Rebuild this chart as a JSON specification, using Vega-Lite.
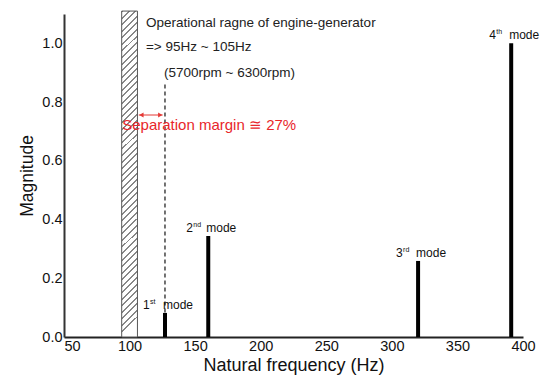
{
  "$schema": "https://vega.github.io/schema/vega-lite/v6.json",
  "width": 459,
  "height": 323,
  "autosize": "none",
  "padding": {"left": 64, "top": 14, "right": 29, "bottom": 52},
  "background": "white",
  "config": {"font": "Liberation Sans", "view": {"stroke": null}},
  "datasets": {
    "modes": [
      {"f": 127, "m": 0.082, "num": "1", "sup": "st"},
      {"f": 160, "m": 0.344, "num": "2", "sup": "nd"},
      {"f": 320, "m": 0.259, "num": "3", "sup": "rd"},
      {"f": 391, "m": 1.0, "num": "4", "sup": "th"}
    ],
    "band": [{"f": 94, "f2": 106, "m": 0, "m2": 1.11}],
    "dash": [{"f": 127, "m": 0.86}],
    "arrow": [{"f": 107, "f2": 125.2, "m": 0.756}],
    "heads": [{"f": 109, "m": 0.756, "dir": "left"}, {"f": 123.4, "m": 0.756, "dir": "right"}],
    "notes": [
      {"f": 112.5, "m": 1.071, "label": "Operational ragne of engine-generator"},
      {"f": 112.5, "m": 0.986, "label": "=> 95Hz ~ 105Hz"},
      {"f": 126.3, "m": 0.899, "label": "(5700rpm ~ 6300rpm)"}
    ],
    "margin": [{"f": 94.4, "m": 0.722, "label": "Separation margin ≅ 27%"}]
  },
  "encoding": {
    "x": {
      "field": "f", "type": "quantitative",
      "scale": {"domain": [50, 400], "nice": false, "zero": false},
      "axis": {
        "values": [50, 100, 150, 200, 250, 300, 350, 400],
        "title": "Natural frequency (Hz)",
        "grid": false, "ticks": false, "tickSize": 0,
        "labelPadding": 2, "labelFontSize": 14.5, "labelColor": "#111",
        "labelAlign": {"condition": {"test": "datum.value === 50", "value": "left"}, "value": "center"},
        "labelFlush": false,
        "domainColor": "#222", "domainWidth": 2,
        "titleFontSize": 18, "titleFontWeight": "normal", "titleColor": "#111", "titlePadding": 4
      }
    },
    "y": {
      "field": "m", "type": "quantitative",
      "scale": {"domain": [0, 1.1], "nice": false},
      "axis": {
        "values": [0, 0.2, 0.4, 0.6, 0.8, 1.0], "format": ".1f",
        "title": "Magnitude",
        "grid": false, "ticks": false, "tickSize": 0,
        "labelPadding": 2, "labelFontSize": 14.5, "labelColor": "#111",
        "domainColor": "#333", "domainWidth": 2,
        "titleFontSize": 17.5, "titleFontWeight": "normal", "titleColor": "#111", "titlePadding": 5
      }
    }
  },
  "layer": [
    {
      "data": {"name": "band"},
      "mark": {
        "type": "rect", "stroke": "#555", "strokeWidth": 1,
        "fill": {
          "gradient": "linear", "x1": 0, "y1": 0, "x2": 0.048, "y2": 1,
          "stops": [
            {"offset": 0, "color": "#888"}, {"offset": 0.006, "color": "#888"}, {"offset": 0.006, "color": "#fff"}, {"offset": 0.02, "color": "#fff"},
            {"offset": 0.02, "color": "#888"}, {"offset": 0.026, "color": "#888"}, {"offset": 0.026, "color": "#fff"}, {"offset": 0.04, "color": "#fff"},
            {"offset": 0.04, "color": "#888"}, {"offset": 0.046, "color": "#888"}, {"offset": 0.046, "color": "#fff"}, {"offset": 0.06, "color": "#fff"},
            {"offset": 0.06, "color": "#888"}, {"offset": 0.066, "color": "#888"}, {"offset": 0.066, "color": "#fff"}, {"offset": 0.08, "color": "#fff"},
            {"offset": 0.08, "color": "#888"}, {"offset": 0.086, "color": "#888"}, {"offset": 0.086, "color": "#fff"}, {"offset": 0.1, "color": "#fff"},
            {"offset": 0.1, "color": "#888"}, {"offset": 0.106, "color": "#888"}, {"offset": 0.106, "color": "#fff"}, {"offset": 0.12, "color": "#fff"},
            {"offset": 0.12, "color": "#888"}, {"offset": 0.126, "color": "#888"}, {"offset": 0.126, "color": "#fff"}, {"offset": 0.14, "color": "#fff"},
            {"offset": 0.14, "color": "#888"}, {"offset": 0.146, "color": "#888"}, {"offset": 0.146, "color": "#fff"}, {"offset": 0.16, "color": "#fff"},
            {"offset": 0.16, "color": "#888"}, {"offset": 0.166, "color": "#888"}, {"offset": 0.166, "color": "#fff"}, {"offset": 0.18, "color": "#fff"},
            {"offset": 0.18, "color": "#888"}, {"offset": 0.186, "color": "#888"}, {"offset": 0.186, "color": "#fff"}, {"offset": 0.2, "color": "#fff"},
            {"offset": 0.2, "color": "#888"}, {"offset": 0.206, "color": "#888"}, {"offset": 0.206, "color": "#fff"}, {"offset": 0.22, "color": "#fff"},
            {"offset": 0.22, "color": "#888"}, {"offset": 0.226, "color": "#888"}, {"offset": 0.226, "color": "#fff"}, {"offset": 0.24, "color": "#fff"},
            {"offset": 0.24, "color": "#888"}, {"offset": 0.246, "color": "#888"}, {"offset": 0.246, "color": "#fff"}, {"offset": 0.26, "color": "#fff"},
            {"offset": 0.26, "color": "#888"}, {"offset": 0.266, "color": "#888"}, {"offset": 0.266, "color": "#fff"}, {"offset": 0.28, "color": "#fff"},
            {"offset": 0.28, "color": "#888"}, {"offset": 0.286, "color": "#888"}, {"offset": 0.286, "color": "#fff"}, {"offset": 0.3, "color": "#fff"},
            {"offset": 0.3, "color": "#888"}, {"offset": 0.306, "color": "#888"}, {"offset": 0.306, "color": "#fff"}, {"offset": 0.32, "color": "#fff"},
            {"offset": 0.32, "color": "#888"}, {"offset": 0.326, "color": "#888"}, {"offset": 0.326, "color": "#fff"}, {"offset": 0.34, "color": "#fff"},
            {"offset": 0.34, "color": "#888"}, {"offset": 0.346, "color": "#888"}, {"offset": 0.346, "color": "#fff"}, {"offset": 0.36, "color": "#fff"},
            {"offset": 0.36, "color": "#888"}, {"offset": 0.366, "color": "#888"}, {"offset": 0.366, "color": "#fff"}, {"offset": 0.38, "color": "#fff"},
            {"offset": 0.38, "color": "#888"}, {"offset": 0.386, "color": "#888"}, {"offset": 0.386, "color": "#fff"}, {"offset": 0.4, "color": "#fff"},
            {"offset": 0.4, "color": "#888"}, {"offset": 0.406, "color": "#888"}, {"offset": 0.406, "color": "#fff"}, {"offset": 0.42, "color": "#fff"},
            {"offset": 0.42, "color": "#888"}, {"offset": 0.426, "color": "#888"}, {"offset": 0.426, "color": "#fff"}, {"offset": 0.44, "color": "#fff"},
            {"offset": 0.44, "color": "#888"}, {"offset": 0.446, "color": "#888"}, {"offset": 0.446, "color": "#fff"}, {"offset": 0.46, "color": "#fff"},
            {"offset": 0.46, "color": "#888"}, {"offset": 0.466, "color": "#888"}, {"offset": 0.466, "color": "#fff"}, {"offset": 0.48, "color": "#fff"},
            {"offset": 0.48, "color": "#888"}, {"offset": 0.486, "color": "#888"}, {"offset": 0.486, "color": "#fff"}, {"offset": 0.5, "color": "#fff"},
            {"offset": 0.5, "color": "#888"}, {"offset": 0.506, "color": "#888"}, {"offset": 0.506, "color": "#fff"}, {"offset": 0.52, "color": "#fff"},
            {"offset": 0.52, "color": "#888"}, {"offset": 0.526, "color": "#888"}, {"offset": 0.526, "color": "#fff"}, {"offset": 0.54, "color": "#fff"},
            {"offset": 0.54, "color": "#888"}, {"offset": 0.546, "color": "#888"}, {"offset": 0.546, "color": "#fff"}, {"offset": 0.56, "color": "#fff"},
            {"offset": 0.56, "color": "#888"}, {"offset": 0.566, "color": "#888"}, {"offset": 0.566, "color": "#fff"}, {"offset": 0.58, "color": "#fff"},
            {"offset": 0.58, "color": "#888"}, {"offset": 0.586, "color": "#888"}, {"offset": 0.586, "color": "#fff"}, {"offset": 0.6, "color": "#fff"},
            {"offset": 0.6, "color": "#888"}, {"offset": 0.606, "color": "#888"}, {"offset": 0.606, "color": "#fff"}, {"offset": 0.62, "color": "#fff"},
            {"offset": 0.62, "color": "#888"}, {"offset": 0.626, "color": "#888"}, {"offset": 0.626, "color": "#fff"}, {"offset": 0.64, "color": "#fff"},
            {"offset": 0.64, "color": "#888"}, {"offset": 0.646, "color": "#888"}, {"offset": 0.646, "color": "#fff"}, {"offset": 0.66, "color": "#fff"},
            {"offset": 0.66, "color": "#888"}, {"offset": 0.666, "color": "#888"}, {"offset": 0.666, "color": "#fff"}, {"offset": 0.68, "color": "#fff"},
            {"offset": 0.68, "color": "#888"}, {"offset": 0.686, "color": "#888"}, {"offset": 0.686, "color": "#fff"}, {"offset": 0.7, "color": "#fff"},
            {"offset": 0.7, "color": "#888"}, {"offset": 0.706, "color": "#888"}, {"offset": 0.706, "color": "#fff"}, {"offset": 0.72, "color": "#fff"},
            {"offset": 0.72, "color": "#888"}, {"offset": 0.726, "color": "#888"}, {"offset": 0.726, "color": "#fff"}, {"offset": 0.74, "color": "#fff"},
            {"offset": 0.74, "color": "#888"}, {"offset": 0.746, "color": "#888"}, {"offset": 0.746, "color": "#fff"}, {"offset": 0.76, "color": "#fff"},
            {"offset": 0.76, "color": "#888"}, {"offset": 0.766, "color": "#888"}, {"offset": 0.766, "color": "#fff"}, {"offset": 0.78, "color": "#fff"},
            {"offset": 0.78, "color": "#888"}, {"offset": 0.786, "color": "#888"}, {"offset": 0.786, "color": "#fff"}, {"offset": 0.8, "color": "#fff"},
            {"offset": 0.8, "color": "#888"}, {"offset": 0.806, "color": "#888"}, {"offset": 0.806, "color": "#fff"}, {"offset": 0.82, "color": "#fff"},
            {"offset": 0.82, "color": "#888"}, {"offset": 0.826, "color": "#888"}, {"offset": 0.826, "color": "#fff"}, {"offset": 0.84, "color": "#fff"},
            {"offset": 0.84, "color": "#888"}, {"offset": 0.846, "color": "#888"}, {"offset": 0.846, "color": "#fff"}, {"offset": 0.86, "color": "#fff"},
            {"offset": 0.86, "color": "#888"}, {"offset": 0.866, "color": "#888"}, {"offset": 0.866, "color": "#fff"}, {"offset": 0.88, "color": "#fff"},
            {"offset": 0.88, "color": "#888"}, {"offset": 0.886, "color": "#888"}, {"offset": 0.886, "color": "#fff"}, {"offset": 0.9, "color": "#fff"},
            {"offset": 0.9, "color": "#888"}, {"offset": 0.906, "color": "#888"}, {"offset": 0.906, "color": "#fff"}, {"offset": 0.92, "color": "#fff"},
            {"offset": 0.92, "color": "#888"}, {"offset": 0.926, "color": "#888"}, {"offset": 0.926, "color": "#fff"}, {"offset": 0.94, "color": "#fff"},
            {"offset": 0.94, "color": "#888"}, {"offset": 0.946, "color": "#888"}, {"offset": 0.946, "color": "#fff"}, {"offset": 0.96, "color": "#fff"},
            {"offset": 0.96, "color": "#888"}, {"offset": 0.966, "color": "#888"}, {"offset": 0.966, "color": "#fff"}, {"offset": 0.98, "color": "#fff"},
            {"offset": 0.98, "color": "#888"}, {"offset": 0.986, "color": "#888"}, {"offset": 0.986, "color": "#fff"}, {"offset": 1, "color": "#fff"}
          ]
        }
      },
      "encoding": {"x2": {"field": "f2"}, "y2": {"field": "m2"}}
    },
    {
      "data": {"name": "dash"},
      "mark": {"type": "rule", "color": "#444", "strokeDash": [4, 3], "strokeWidth": 1.5},
      "encoding": {"y2": {"datum": 0}}
    },
    {
      "data": {"name": "modes"},
      "mark": {"type": "rule", "color": "#000", "strokeWidth": 4},
      "encoding": {"y2": {"datum": 0}}
    },
    {
      "data": {"name": "arrow"},
      "mark": {"type": "rule", "color": "#e53935", "strokeWidth": 1},
      "encoding": {"x2": {"field": "f2"}}
    },
    {
      "data": {"name": "heads"},
      "mark": {"type": "point", "filled": true, "color": "#e53935", "size": 25, "opacity": 1},
      "encoding": {
        "shape": {"field": "dir", "type": "nominal", "scale": {"domain": ["left", "right"], "range": ["triangle-left", "triangle-right"]}, "legend": null}
      }
    },
    {
      "data": {"name": "notes"},
      "mark": {"type": "text", "align": "left", "baseline": "middle", "fontSize": 13.5, "color": "#222"},
      "encoding": {"text": {"field": "label"}}
    },
    {
      "data": {"name": "margin"},
      "mark": {"type": "text", "align": "left", "baseline": "middle", "fontSize": 15, "color": "#e8262b"},
      "encoding": {"text": {"field": "label"}}
    },
    {
      "data": {"name": "modes"},
      "mark": {"type": "text", "align": "left", "baseline": "alphabetic", "fontSize": 12, "dx": -22, "dy": -4, "color": "#111"},
      "encoding": {"text": {"field": "num"}}
    },
    {
      "data": {"name": "modes"},
      "mark": {"type": "text", "align": "left", "baseline": "alphabetic", "fontSize": 7, "dx": -15, "dy": -9, "color": "#111"},
      "encoding": {"text": {"field": "sup"}}
    },
    {
      "data": {"name": "modes"},
      "mark": {"type": "text", "align": "left", "baseline": "alphabetic", "fontSize": 12, "dx": -2, "dy": -4, "color": "#111", "text": "mode"}
    }
  ]
}
